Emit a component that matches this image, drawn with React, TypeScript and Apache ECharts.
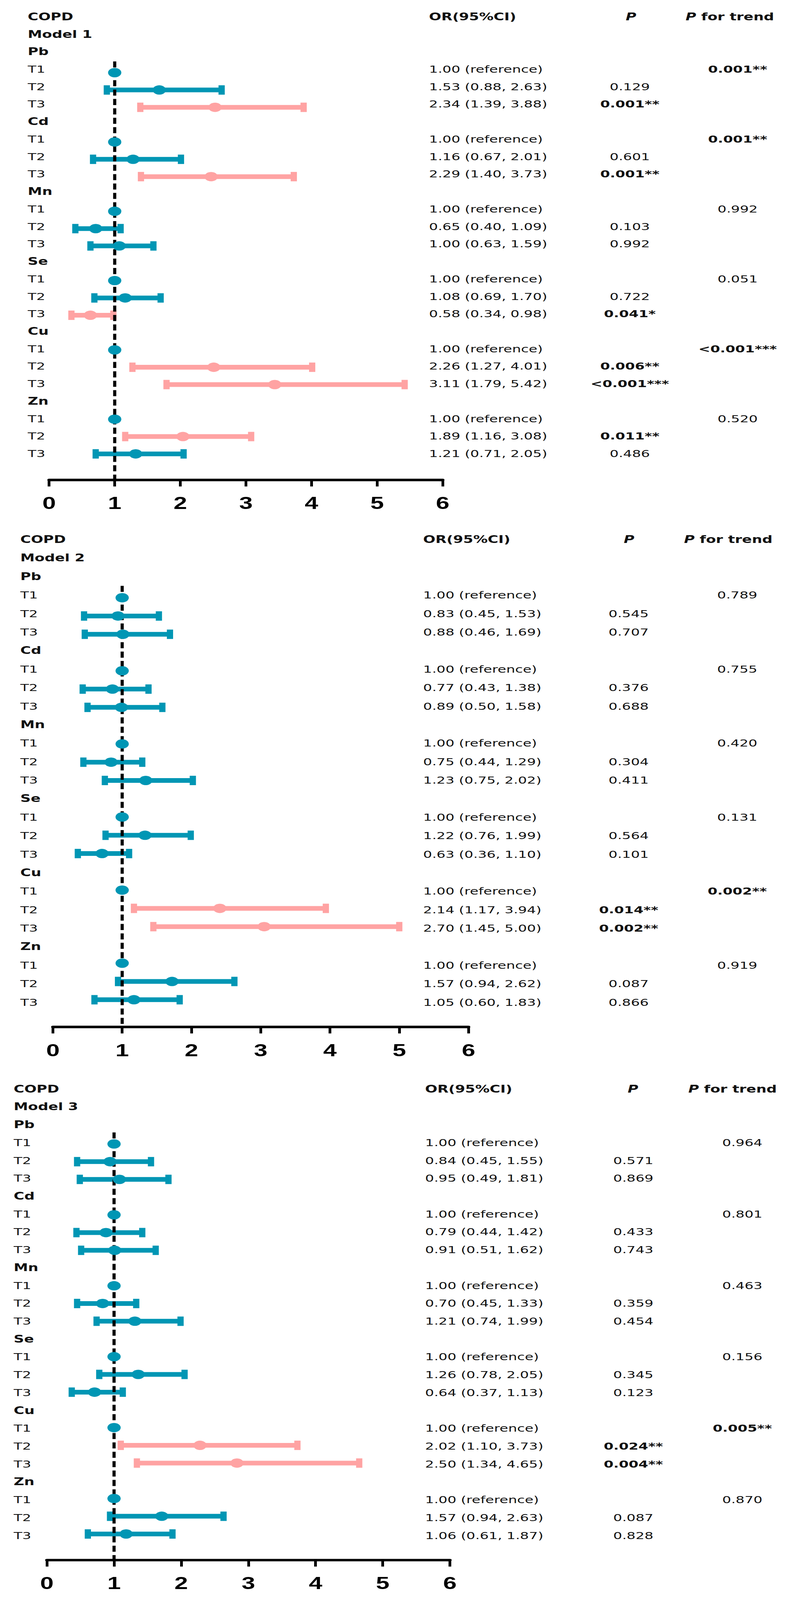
import React, { useEffect, useRef } from "react";
import * as echarts from "echarts";

// ---------- data ----------
const ELEMENTS = ["Pb", "Cd", "Mn", "Se", "Cu", "Zn"];
const TERTILES = ["T1", "T2", "T3"];
const X_TICKS = [0, 1, 2, 3, 4, 5, 6];

// Model 1 (per element: [T2, T3])
const m1OR = [[1.53, 2.34], [1.16, 2.29], [0.65, 1.0], [1.08, 0.58], [2.26, 3.11], [1.89, 1.21]];
const m1Low = [[0.88, 1.39], [0.67, 1.4], [0.4, 0.63], [0.69, 0.34], [1.27, 1.79], [1.16, 0.71]];
const m1High = [[2.63, 3.88], [2.01, 3.73], [1.09, 1.59], [1.7, 0.98], [4.01, 5.42], [3.08, 2.05]];
const m1Plot = [[1.68, 2.53], [1.28, 2.47], [0.71, 1.07], [1.16, 0.63], [2.51, 3.44], [2.04, 1.32]];
const m1P = [["0.129", "0.001**"], ["0.601", "0.001**"], ["0.103", "0.992"], ["0.722", "0.041*"], ["0.006**", "<0.001***"], ["0.011**", "0.486"]];
const m1Trend = ["0.001**", "0.001**", "0.992", "0.051", "<0.001***", "0.520"];

// Model 2
const m2OR = [[0.83, 0.88], [0.77, 0.89], [0.75, 1.23], [1.22, 0.63], [2.14, 2.7], [1.57, 1.05]];
const m2Low = [[0.45, 0.46], [0.43, 0.5], [0.44, 0.75], [0.76, 0.36], [1.17, 1.45], [0.94, 0.6]];
const m2High = [[1.53, 1.69], [1.38, 1.58], [1.29, 2.02], [1.99, 1.1], [3.94, 5.0], [2.62, 1.83]];
const m2Plot = [[0.94, 1.01], [0.86, 0.99], [0.84, 1.34], [1.33, 0.71], [2.41, 3.05], [1.72, 1.17]];
const m2P = [["0.545", "0.707"], ["0.376", "0.688"], ["0.304", "0.411"], ["0.564", "0.101"], ["0.014**", "0.002**"], ["0.087", "0.866"]];
const m2Trend = ["0.789", "0.755", "0.420", "0.131", "0.002**", "0.919"];

// Model 3
const m3OR = [[0.84, 0.95], [0.79, 0.91], [0.7, 1.21], [1.26, 0.64], [2.02, 2.5], [1.57, 1.06]];
const m3Low = [[0.45, 0.49], [0.44, 0.51], [0.45, 0.74], [0.78, 0.37], [1.1, 1.34], [0.94, 0.61]];
const m3High = [[1.55, 1.81], [1.42, 1.62], [1.33, 1.99], [2.05, 1.13], [3.73, 4.65], [2.63, 1.87]];
const m3Plot = [[0.94, 1.08], [0.88, 1.01], [0.83, 1.31], [1.36, 0.71], [2.28, 2.83], [1.71, 1.18]];
const m3P = [["0.571", "0.869"], ["0.433", "0.743"], ["0.359", "0.454"], ["0.345", "0.123"], ["0.024**", "0.004**"], ["0.087", "0.828"]];
const m3Trend = ["0.964", "0.801", "0.463", "0.156", "0.005**", "0.870"];

// ---------- layout / style ----------
const W = 2022;
const H = 5792;
const TEAL = "#0096B4";
const PINK = "#FFA3A3";
const TXT = "#111111";
const FONT = "DejaVu Sans";
const AXIS_FONT = "Liberation Sans";
const REF_LINE_START = 2.35; // row position where the dashed OR=1 line starts

const PANELS = [
  { model: "Model 1", or: m1OR, low: m1Low, high: m1High, plot: m1Plot, p: m1P, trend: m1Trend,
    left: 125.7, right: 1133.1, plotTop: 74.8, plotStep: 62.73, axisY: 1737,
    textTop: 60.5, textStep: 63.26, labelX: 71, orX: 1098, pX: 1612, trendX: 1888, pHeadX: 1615, trendHeadX: 1868 },
  { model: "Model 2", or: m2OR, low: m2Low, high: m2High, plot: m2Plot, p: m2P, trend: m2Trend,
    left: 135.4, right: 1199.2, plotTop: 1965.3, plotStep: 66.15, axisY: 3717,
    textTop: 1953, textStep: 67, labelX: 52, orX: 1083, pX: 1609, trendX: 1887, pHeadX: 1610, trendHeadX: 1864 },
  { model: "Model 3", or: m3OR, low: m3Low, high: m3High, plot: m3Plot, p: m3P, trend: m3Trend,
    left: 120, right: 1151.5, plotTop: 3948.5, plotStep: 64.18, axisY: 5647,
    textTop: 3942, textStep: 64.64, labelX: 35, orX: 1088, pX: 1621, trendX: 1900, pHeadX: 1620, trendHeadX: 1875 },
];

const isSig = (s: string) => s.indexOf("*") >= 0;
const fmt = (v: number) => v.toFixed(2);

function buildOption() {
  const grid: any[] = [];
  const xAxis: any[] = [];
  const yAxis: any[] = [];
  const series: any[] = [];
  const graphic: any[] = [];

  PANELS.forEach((P, pi) => {
    const height = P.axisY - P.plotTop;
    const maxRow = height / P.plotStep;
    grid.push({ left: P.left, top: P.plotTop, width: P.right - P.left, height });
    xAxis.push({
      type: "value", gridIndex: pi, position: "bottom",
      min: X_TICKS[0], max: X_TICKS[X_TICKS.length - 1], interval: 1,
      splitLine: { show: false },
      axisLine: { show: true, onZero: false, lineStyle: { color: "#000", width: 9 } },
      axisTick: { show: true, length: 24, lineStyle: { color: "#000", width: 7 } },
      axisLabel: { show: true, margin: 53, fontSize: 62, fontWeight: "bold", fontFamily: AXIS_FONT, color: "#000" },
    });
    yAxis.push({ type: "value", gridIndex: pi, inverse: true, min: 0, max: maxRow, show: false });

    const bars: any[] = [];
    const pts: any[] = [];
    ELEMENTS.forEach((el, k) => {
      const base = 2 + k * 4;
      pts.push({ value: [1, base + 1], itemStyle: { color: TEAL } });
      for (let t = 0; t < 2; t++) {
        const sig = isSig(P.p[k][t]);
        const row = base + 2 + t;
        bars.push([P.low[k][t], P.high[k][t], row, sig ? 1 : 0]);
        pts.push({ value: [P.plot[k][t], row], itemStyle: { color: sig ? PINK : TEAL } });
      }
    });

    series.push({
      type: "custom", xAxisIndex: pi, yAxisIndex: pi, z: 2, silent: true,
      encode: { x: [0, 1], y: 2 },
      data: bars,
      renderItem: (params: any, api: any) => {
        const row = api.value(2);
        const a = api.coord([api.value(0), row]);
        const b = api.coord([api.value(1), row]);
        const c = api.value(3) ? PINK : TEAL;
        return {
          type: "group",
          children: [
            { type: "line", shape: { x1: a[0], y1: a[1], x2: b[0], y2: b[1] }, style: { stroke: c, lineWidth: 17 } },
            { type: "rect", shape: { x: a[0] - 8, y: a[1] - 17, width: 16, height: 34 }, style: { fill: c } },
            { type: "rect", shape: { x: b[0] - 8, y: b[1] - 17, width: 16, height: 34 }, style: { fill: c } },
          ],
        };
      },
    });
    series.push({
      type: "line", xAxisIndex: pi, yAxisIndex: pi, z: 3, silent: true, symbol: "none",
      data: [[1, REF_LINE_START], [1, maxRow]],
      lineStyle: { color: "#000", width: 8, type: [22, 12] },
    });
    series.push({
      type: "scatter", xAxisIndex: pi, yAxisIndex: pi, z: 6, silent: true,
      symbol: "circle", symbolSize: 34, data: pts, itemStyle: { opacity: 1 },
    });

    // ---------- texts ----------
    const ty = (r: number) => P.textTop + r * P.textStep;
    const txt = (text: string, x: number, y: number, opts: any = {}) =>
      graphic.push({
        type: "text", x, y, silent: true,
        style: {
          text, fill: TXT, fontFamily: FONT, fontSize: 36, fontWeight: "normal",
          align: "left", verticalAlign: "middle", ...opts,
        },
      });
    txt("COPD", P.labelX, ty(0), { fontWeight: "bold", fontSize: 37 });
    txt(P.model, P.labelX, ty(1), { fontWeight: "bold", fontSize: 37 });
    txt("OR(95%CI)", P.orX, ty(0), { fontWeight: "bold", fontSize: 37 });
    txt("P", P.pHeadX, ty(0), { fontWeight: "bold", fontStyle: "italic", fontSize: 37, align: "center" });
    txt("{i|P} for trend", P.trendHeadX, ty(0), {
      fontWeight: "bold", fontSize: 37, align: "center",
      rich: { i: { fontStyle: "italic", fontWeight: "bold", fontSize: 37, fontFamily: FONT, fill: TXT } },
    });
    ELEMENTS.forEach((el, k) => {
      const base = 2 + k * 4;
      txt(el, P.labelX, ty(base), { fontWeight: "bold", fontSize: 37 });
      TERTILES.forEach((t, j) => txt(t, P.labelX, ty(base + 1 + j)));
      txt("1.00 (reference)", P.orX, ty(base + 1));
      const tr = P.trend[k];
      txt(tr, P.trendX, ty(base + 1), { align: "center", fontWeight: isSig(tr) ? "bold" : "normal" });
      for (let t = 0; t < 2; t++) {
        const row = base + 2 + t;
        txt(`${fmt(P.or[k][t])} (${fmt(P.low[k][t])}, ${fmt(P.high[k][t])})`, P.orX, ty(row));
        const pv = P.p[k][t];
        txt(pv, P.pX, ty(row), { align: "center", fontWeight: isSig(pv) ? "bold" : "normal" });
      }
    });
  });

  return { animation: false, backgroundColor: "#ffffff", grid, xAxis, yAxis, series, graphic };
}

export default function App() {
  const ref = useRef<HTMLDivElement>(null);
  // the browser viewport may be shorter than the figure; fit the figure's full height into it
  const vh = typeof window !== "undefined" ? window.innerHeight : H;
  const s = vh > 0 ? Math.min(1, vh / H) : 1;
  useEffect(() => {
    document.body.style.margin = "0";
    document.body.style.overflow = "hidden";
    if (!ref.current) return;
    const chart = echarts.init(ref.current, null, { renderer: "svg" });
    chart.setOption(buildOption() as any);
    return () => chart.dispose();
  }, []);
  return (
    <div style={{ width: W, height: H * s, overflow: "hidden", background: "#fff" }}>
      <div
        ref={ref}
        style={{ width: W, height: H, background: "#fff", transform: `scaleY(${s})`, transformOrigin: "0 0" }}
      />
    </div>
  );
}
